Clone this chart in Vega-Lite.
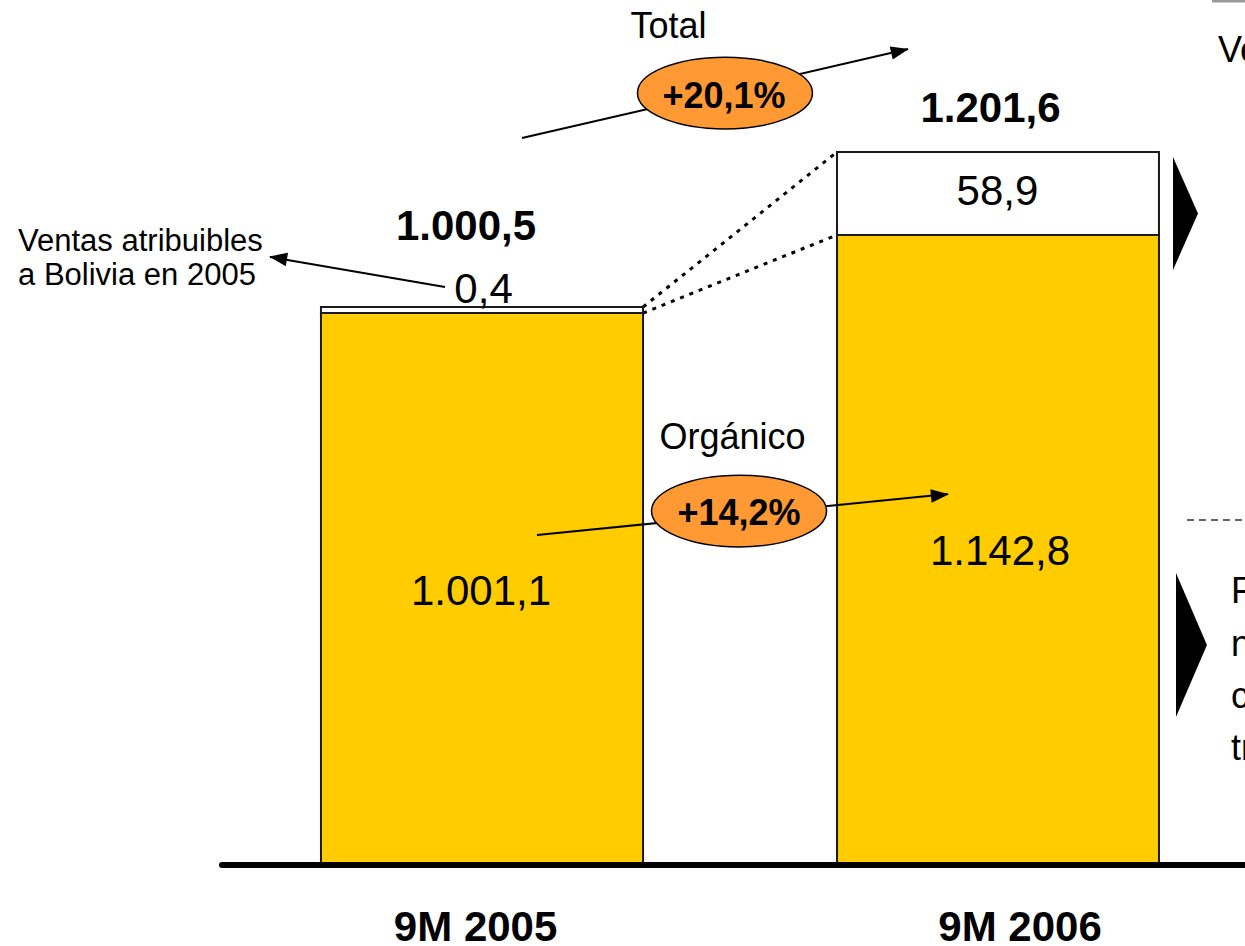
{
  "$schema": "https://vega.github.io/schema/vega-lite/v6.json",
  "autosize": "none",
  "width": 1245,
  "height": 946,
  "padding": 0,
  "background": "#ffffff",
  "config": {"view": {"stroke": null}, "text": {"font": "Liberation Sans", "color": "#000000"}},
  "datasets": {
    "bars": [
      {"period": "9M 2005", "segment": "Orgánico", "value": 1001.1, "x": 25.78, "x2": 51.65, "y": 1001.1, "y2": 0},
      {"period": "9M 2005", "segment": "Otros", "value": 0.4, "x": 25.78, "x2": 51.65, "y": 1012.0, "y2": 1001.1},
      {"period": "9M 2006", "segment": "Orgánico", "value": 1142.8, "x": 67.23, "x2": 93.09, "y": 1142.8, "y2": 0},
      {"period": "9M 2006", "segment": "Otros", "value": 58.9, "x": 67.23, "x2": 93.09, "y": 1293.1, "y2": 1142.8}
    ],
    "lines": [
      {"kind": "axis", "x": 17.83, "y": 0, "x2": 100.5, "y2": 0},
      {"kind": "link", "x": 51.65, "y": 1012.0, "x2": 67.23, "y2": 1293.1},
      {"kind": "link", "x": 51.65, "y": 1001.1, "x2": 67.23, "y2": 1142.8},
      {"kind": "arrow", "x": 41.93, "y": 1318.5, "x2": 72.93, "y2": 1479.9},
      {"kind": "arrow", "x": 43.13, "y": 598.5, "x2": 76.14, "y2": 672.8},
      {"kind": "arrow", "x": 35.74, "y": 1048.3, "x2": 21.69, "y2": 1102.7},
      {"kind": "top", "x": 97.35, "y": 1567.0, "x2": 100, "y2": 1567.0},
      {"kind": "divider", "x": 95.34, "y": 625.7, "x2": 100, "y2": 625.7}
    ],
    "heads": [
      {"x": 72.29, "y": 1476.3, "angle": -13},
      {"x": 75.50, "y": 671.0, "angle": -5.7},
      {"x": 22.33, "y": 1100.9, "angle": 189.7}
    ],
    "ovals": [
      {"label": "+20,1%", "x": 58.23, "y": 1400.1},
      {"label": "+14,2%", "x": 59.36, "y": 642.0}
    ],
    "flags": [
      {"id": "upper", "x": 95.22, "y": 1181.6},
      {"id": "lower", "x": 95.70, "y": 399.0}
    ],
    "texts": [
      {"kind": "category", "text": "9M 2005", "x": 38.2, "y": -137.8},
      {"kind": "category", "text": "9M 2006", "x": 81.93, "y": -137.8},
      {"kind": "total", "text": "1.000,5", "x": 37.43, "y": 1133.5},
      {"kind": "total", "text": "1.201,6", "x": 79.56, "y": 1347.5},
      {"kind": "segment", "text": "0,4", "x": 38.84, "y": 1019.2},
      {"kind": "segment", "text": "58,9", "x": 80.12, "y": 1197.0},
      {"kind": "segment", "text": "1.001,1", "x": 38.63, "y": 471.5},
      {"kind": "segment", "text": "1.142,8", "x": 80.32, "y": 544.1},
      {"kind": "heading", "text": "Total", "x": 53.69, "y": 1499.8},
      {"kind": "heading", "text": "Orgánico", "x": 58.84, "y": 754.5},
      {"kind": "growth", "text": "+20,1%", "x": 58.15, "y": 1372.9},
      {"kind": "growth", "text": "+14,2%", "x": 59.36, "y": 616.6},
      {"kind": "note", "text": "Ventas atribuibles", "x": 1.45, "y": 1113.5},
      {"kind": "note", "text": "a Bolivia en 2005", "x": 1.45, "y": 1051.9},
      {"kind": "clipped", "text": "Ve", "x": 97.83, "y": 1456.3},
      {"kind": "clipped", "text": "F", "x": 98.88, "y": 475.2},
      {"kind": "clipped", "text": "n", "x": 98.88, "y": 379.0},
      {"kind": "clipped", "text": "c", "x": 98.88, "y": 284.7},
      {"kind": "clipped", "text": "tr", "x": 98.88, "y": 190.4}
    ]
  },
  "encoding": {
    "x": {"field": "x", "type": "quantitative", "scale": {"domain": [0, 100], "nice": false, "zero": false}, "axis": null},
    "y": {"field": "y", "type": "quantitative", "scale": {"domain": [-146.9, 1568.8], "nice": false, "zero": false}, "axis": null}
  },
  "layer": [
    {
      "data": {"name": "lines"},
      "transform": [{"filter": "datum.kind == 'link'"}],
      "mark": {"type": "rule", "strokeWidth": 3, "strokeDash": [4, 6], "color": "#000000"},
      "encoding": {"x2": {"field": "x2"}, "y2": {"field": "y2"}}
    },
    {
      "data": {"name": "bars"},
      "mark": {"type": "bar", "stroke": "#1a1a1a", "strokeWidth": 2},
      "encoding": {
        "x2": {"field": "x2"},
        "y2": {"field": "y2"},
        "color": {"field": "segment", "type": "nominal", "scale": {"domain": ["Orgánico", "Otros"], "range": ["#FFCC00", "#FFFFFF"]}, "legend": null}
      }
    },
    {
      "data": {"name": "lines"},
      "transform": [{"filter": "datum.kind == 'axis'"}],
      "mark": {"type": "rule", "strokeWidth": 6, "strokeCap": "round", "color": "#000000"},
      "encoding": {"x2": {"field": "x2"}, "y2": {"field": "y2"}}
    },
    {
      "data": {"name": "lines"},
      "transform": [{"filter": "datum.kind == 'arrow'"}],
      "mark": {"type": "rule", "strokeWidth": 2, "color": "#000000"},
      "encoding": {"x2": {"field": "x2"}, "y2": {"field": "y2"}}
    },
    {
      "data": {"name": "lines"},
      "transform": [{"filter": "datum.kind == 'top'"}],
      "mark": {"type": "rule", "strokeWidth": 3, "color": "#999999"},
      "encoding": {"x2": {"field": "x2"}, "y2": {"field": "y2"}}
    },
    {
      "data": {"name": "lines"},
      "transform": [{"filter": "datum.kind == 'divider'"}],
      "mark": {"type": "rule", "strokeWidth": 1.5, "strokeDash": [7, 5], "color": "#333333"},
      "encoding": {"x2": {"field": "x2"}, "y2": {"field": "y2"}}
    },
    {
      "data": {"name": "heads"},
      "mark": {"type": "point", "shape": "M-1,-0.75L1,0L-1,0.75Z", "size": 324, "filled": true, "color": "#000000", "opacity": 1},
      "encoding": {"angle": {"field": "angle", "type": "quantitative", "scale": null}}
    },
    {
      "data": {"name": "ovals"},
      "mark": {"type": "point", "shape": "M-1,0A1,0.41,0,1,1,1,0A1,0.41,0,1,1,-1,0Z", "size": 30625, "filled": true, "fill": "#FF9933", "stroke": "#000000", "strokeWidth": 1.5, "opacity": 1}
    },
    {
      "data": {"name": "flags"},
      "transform": [{"filter": "datum.id == 'upper'"}],
      "mark": {"type": "point", "shape": "M-0.221,-1L0.221,0L-0.221,1Z", "size": 12769, "filled": true, "color": "#000000", "opacity": 1}
    },
    {
      "data": {"name": "flags"},
      "transform": [{"filter": "datum.id == 'lower'"}],
      "mark": {"type": "point", "shape": "M-0.215,-1L0.215,0L-0.215,1Z", "size": 20736, "filled": true, "color": "#000000", "opacity": 1}
    },
    {
      "data": {"name": "texts"},
      "transform": [{"filter": "datum.kind == 'category' || datum.kind == 'total'"}],
      "mark": {"type": "text", "fontSize": 42, "fontWeight": "bold", "align": "center", "baseline": "alphabetic"},
      "encoding": {"text": {"field": "text"}}
    },
    {
      "data": {"name": "texts"},
      "transform": [{"filter": "datum.kind == 'segment'"}],
      "mark": {"type": "text", "fontSize": 42, "align": "center", "baseline": "alphabetic"},
      "encoding": {"text": {"field": "text"}}
    },
    {
      "data": {"name": "texts"},
      "transform": [{"filter": "datum.kind == 'heading'"}],
      "mark": {"type": "text", "fontSize": 36, "align": "center", "baseline": "alphabetic"},
      "encoding": {"text": {"field": "text"}}
    },
    {
      "data": {"name": "texts"},
      "transform": [{"filter": "datum.kind == 'growth'"}],
      "mark": {"type": "text", "fontSize": 36, "fontWeight": "bold", "align": "center", "baseline": "alphabetic"},
      "encoding": {"text": {"field": "text"}}
    },
    {
      "data": {"name": "texts"},
      "transform": [{"filter": "datum.kind == 'note'"}],
      "mark": {"type": "text", "fontSize": 31, "align": "left", "baseline": "alphabetic"},
      "encoding": {"text": {"field": "text"}}
    },
    {
      "data": {"name": "texts"},
      "transform": [{"filter": "datum.kind == 'clipped'"}],
      "mark": {"type": "text", "fontSize": 36, "align": "left", "baseline": "alphabetic"},
      "encoding": {"text": {"field": "text"}}
    }
  ]
}
